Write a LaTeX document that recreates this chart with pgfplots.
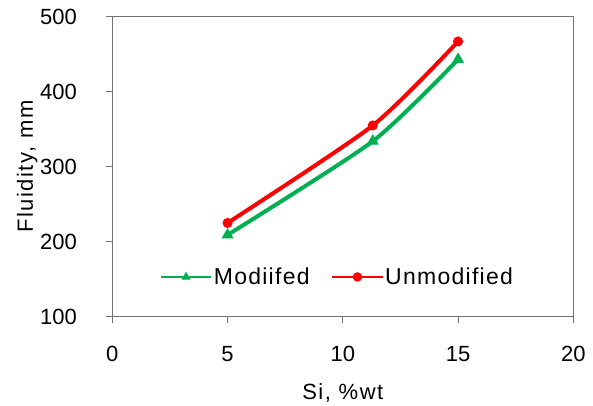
\documentclass[border=0pt]{standalone}
\usepackage{pgfplots}
\pgfplotsset{compat=1.18}
\usepackage{fontspec}
\setmainfont{Liberation Sans}
\newfontfamily\lsfont[LetterSpace=7]{Liberation Sans}
\newfontfamily\legfont[LetterSpace=5.5]{Liberation Sans}
\definecolor{exgreen}{RGB}{0,176,80}
\definecolor{exred}{RGB}{255,0,0}
\begin{document}
\begin{tikzpicture}
\begin{axis}[
  scale only axis,
  width=461bp, height=300bp,
  xmin=0, xmax=20, ymin=100, ymax=500,
  xtick={0,5,10,15,20}, ytick={100,200,300,400,500},
  axis line style={draw=black!55, line width=0.8bp},
  tick style={draw=black!55, line width=0.8bp},
  tick align=outside, major tick length=6bp,
  xtick pos=left, ytick pos=left,
  tick label style={font=\fontsize{22bp}{26bp}\selectfont},
  label style={font=\fontsize{22bp}{26bp}\selectfont\lsfont},
  /pgf/number format/assume math mode=true,
  xticklabel style={yshift=-20bp},
  yticklabel style={xshift=-26bp},
  xlabel={Si, \%wt}, ylabel={Fluidity, mm},
  xlabel style={at={(axis description cs:0.5,0)}, anchor=center, yshift=-76bp},
  ylabel style={at={(axis description cs:0,0.5)}, anchor=center, yshift=85bp},
  legend style={draw=none, fill=none, at={(axis cs:2.05,153)}, anchor=west,
    font=\fontsize{23bp}{27bp}\selectfont\legfont, column sep=0pt, inner sep=0pt,
    nodes={inner sep=1.5bp}},
  legend columns=2,
  /tikz/every even column/.append style={column sep=20bp},
  legend image code/.code={\draw[mark repeat=2,mark phase=2] plot coordinates {(0bp,0bp)(25bp,0bp)(50bp,0bp)};},
  legend image post style={line width=2.6bp, mark size=4.2bp},
  clip=false,
]
\addplot[exgreen, line width=4bp, smooth, tension=0.4, mark=triangle*, mark size=6bp, mark options={solid, line width=1bp}]
  coordinates {(5,209) (11.3,334) (15,443)};
\addlegendentry{Modiifed}
\addplot[exred, line width=4bp, smooth, tension=0.4, mark=*, mark size=4.5bp, mark options={solid, line width=1bp}]
  coordinates {(5,225) (11.3,355) (15,467)};
\addlegendentry{Unmodified}
\end{axis}
\path (current axis.south west) ++(-112.3bp,-83.3bp) coordinate (bbA);
\path (current axis.north east) ++(19.7bp,16.7bp) coordinate (bbB);
\useasboundingbox (bbA) rectangle (bbB);
\end{tikzpicture}
\end{document}
